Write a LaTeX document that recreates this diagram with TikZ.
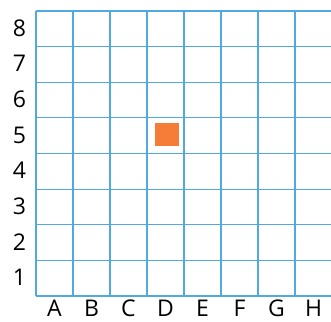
\documentclass[tikz,border=0pt]{standalone}
\usepackage{fontspec}
\setmainfont{Open Sans}
\definecolor{gridblue}{RGB}{80,170,225}
\definecolor{sqorange}{RGB}{245,125,55}
\begin{document}
\begin{tikzpicture}[x=1pt,y=-1pt,
  gridline/.style={draw=gridblue,line width=1.2pt},
  lab/.style={font=\fontsize{23}{23}\selectfont,text=black,inner sep=0pt,anchor=center}]
\useasboundingbox (0,0) rectangle (331,321);
\foreach \i in {0,...,8} {
  \draw[gridline] (36+37*\i,11) -- (36+37*\i,296);
}
\foreach \j in {0,...,8} {
  \draw[gridline] (36,11+35.625*\j) -- (332,11+35.625*\j);
}
\foreach \n [count=\k] in {8,7,6,5,4,3,2,1} {
  \node[lab] (r\n) at (19.5,11+35.625*\k-18.5) {\n};
}
\foreach \l [count=\k] in {A,B,C,D,E,F,G,H} {
  \node[lab] (c\l) at (36+37*\k-18.5,308) {\l};
}
\node[fill=sqorange,minimum width=24pt,minimum height=23pt,inner sep=0pt] (sq) at (166.5,134.5) {};
\end{tikzpicture}
\end{document}
